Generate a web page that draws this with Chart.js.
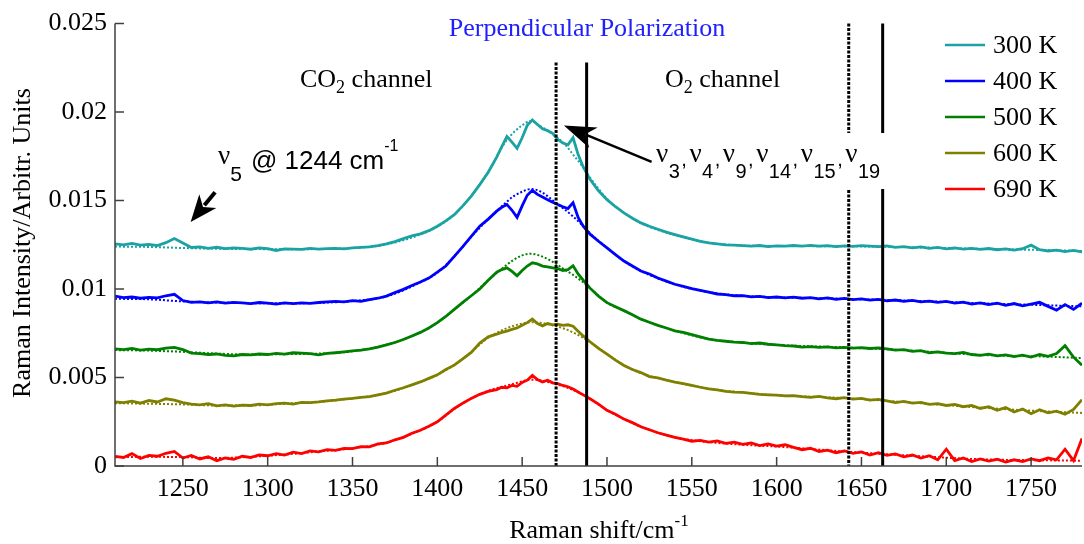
<!DOCTYPE html>
<html><head><meta charset="utf-8">
<script src="https://cdn.jsdelivr.net/npm/chart.js@4.4.1/dist/chart.umd.min.js"></script>
<style>html,body{margin:0;padding:0;background:#fff;}#wrap{width:1084px;height:544px;}</style>
</head><body><div id="wrap"><canvas id="c" width="1084" height="544"></canvas></div>
<script>
// Raman shift (cm^-1)
const xs = [1210,1215,1220,1225,1230,1235,1240,1245,1250,1255,1260,1265,1270,1275,1280,1285,1290,1295,1300,1305,1310,1315,1320,1325,1330,1335,1340,1345,1350,1355,1360,1365,1370,1375,1380,1385,1390,1395,1400,1405,1410,1415,1420,1425,1430,
1435,1438,1441,1444,1447,1450,1453,1456,1459,1462,1465,1468,1471,1474,1477,1480,1483,1486,1490,
1495,1500,1505,1510,1515,1520,1525,1530,1535,1540,1545,1550,1555,1560,1565,1570,1575,1580,1585,1590,1595,1600,1605,1610,1615,1620,1625,1630,1635,1640,1645,1650,1655,1660,1665,1670,1675,1680,1685,1690,1695,1700,1705,1710,1715,1720,1725,1730,1735,1740,1745,1750,1755,1760,1765,1770,1775,1780];

const s300 = [0.01255,0.01250,0.01258,0.01248,0.01252,0.01245,0.01262,0.01285,0.01260,0.01235,
0.01238,0.01230,0.01236,0.01228,0.01233,0.01230,0.01225,0.01232,0.01228,0.01218,
0.01227,0.01225,0.01224,0.01230,0.01226,0.01228,0.01230,0.01227,0.01233,0.01235,
0.01238,0.01245,0.01255,0.01268,0.01285,0.01300,0.01312,0.01330,0.01355,0.01385,
0.01420,0.01470,0.01525,0.01590,0.01660,
0.01745,0.01805,0.01862,0.01830,0.01795,0.01855,0.01925,0.01955,0.01930,0.01905,0.01895,0.01880,0.01845,0.01825,0.01815,0.01855,0.01760,0.01690,0.01620,
0.01555,0.01505,0.01465,0.01430,0.01400,0.01374,0.01355,0.01338,0.01322,0.01308,
0.01295,0.01282,0.01270,0.01261,0.01255,0.01250,0.01248,0.01245,0.01242,0.01246,
0.01240,0.01244,0.01242,0.01246,0.01243,0.01247,0.01242,0.01245,0.01240,0.01244,
0.01241,0.01245,0.01243,0.01240,0.01244,0.01236,0.01240,0.01233,0.01238,0.01230,
0.01235,0.01227,0.01232,0.01226,0.01230,0.01224,0.01229,0.01222,0.01227,0.01220,
0.01228,0.01248,0.01222,0.01215,0.01220,0.01212,0.01218,0.01210];

const s400 = [0.00960,0.00952,0.00955,0.00948,0.00953,0.00950,0.00962,0.00970,0.00935,0.00925,
0.00928,0.00922,0.00927,0.00920,0.00925,0.00922,0.00918,0.00924,0.00920,0.00915,
0.00922,0.00918,0.00922,0.00919,0.00924,0.00927,0.00930,0.00928,0.00934,0.00930,
0.00940,0.00948,0.00960,0.00980,0.00998,0.01020,0.01040,0.01062,0.01095,0.01130,
0.01185,0.01240,0.01298,0.01355,0.01395,
0.01440,0.01462,0.01478,0.01445,0.01405,0.01470,0.01530,0.01558,0.01535,0.01520,0.01505,0.01490,0.01478,0.01465,0.01455,0.01488,0.01405,0.01355,0.01310,
0.01270,0.01233,0.01195,0.01158,0.01130,0.01102,0.01085,0.01062,0.01045,0.01027,
0.01015,0.01002,0.00992,0.00982,0.00972,0.00968,0.00962,0.00963,0.00956,0.00958,
0.00952,0.00955,0.00950,0.00954,0.00948,0.00952,0.00945,0.00950,0.00942,0.00947,
0.00940,0.00944,0.00937,0.00942,0.00933,0.00938,0.00930,0.00936,0.00928,0.00932,
0.00925,0.00930,0.00920,0.00926,0.00915,0.00922,0.00912,0.00920,0.00908,0.00918,
0.00905,0.00915,0.00925,0.00902,0.00880,0.00912,0.00885,0.00920];

const s500 = [0.00662,0.00658,0.00664,0.00655,0.00660,0.00657,0.00666,0.00670,0.00658,0.00638,
0.00635,0.00630,0.00633,0.00625,0.00622,0.00630,0.00628,0.00633,0.00630,0.00636,
0.00632,0.00640,0.00638,0.00635,0.00628,0.00636,0.00640,0.00645,0.00650,0.00655,
0.00662,0.00672,0.00685,0.00698,0.00715,0.00735,0.00755,0.00780,0.00810,0.00845,
0.00885,0.00925,0.00962,0.01000,0.01050,
0.01095,0.01110,0.01120,0.01100,0.01075,0.01105,0.01130,0.01148,0.01142,0.01130,0.01125,0.01120,0.01115,0.01105,0.01110,0.01132,0.01085,0.01050,0.01005,
0.00960,0.00923,0.00900,0.00878,0.00855,0.00830,0.00812,0.00795,0.00780,0.00764,
0.00755,0.00742,0.00730,0.00717,0.00710,0.00705,0.00700,0.00698,0.00692,0.00695,
0.00688,0.00684,0.00680,0.00678,0.00672,0.00675,0.00670,0.00673,0.00668,0.00670,
0.00666,0.00669,0.00664,0.00667,0.00662,0.00655,0.00658,0.00648,0.00652,0.00640,
0.00645,0.00638,0.00635,0.00642,0.00630,0.00625,0.00632,0.00622,0.00628,0.00618,
0.00626,0.00615,0.00630,0.00620,0.00635,0.00680,0.00615,0.00570];

const s600 = [0.00362,0.00358,0.00366,0.00355,0.00370,0.00362,0.00380,0.00372,0.00358,0.00350,
0.00346,0.00352,0.00340,0.00345,0.00338,0.00344,0.00342,0.00350,0.00346,0.00352,
0.00355,0.00350,0.00360,0.00358,0.00362,0.00368,0.00372,0.00378,0.00382,0.00388,
0.00392,0.00402,0.00412,0.00428,0.00442,0.00458,0.00475,0.00495,0.00515,0.00545,
0.00570,0.00605,0.00642,0.00695,0.00730,
0.00745,0.00755,0.00762,0.00772,0.00780,0.00795,0.00810,0.00830,0.00805,0.00792,0.00805,0.00798,0.00802,0.00795,0.00798,0.00790,0.00762,0.00735,0.00702,
0.00665,0.00632,0.00598,0.00568,0.00545,0.00528,0.00505,0.00498,0.00485,0.00474,
0.00465,0.00455,0.00445,0.00436,0.00430,0.00422,0.00418,0.00416,0.00410,0.00405,
0.00402,0.00400,0.00396,0.00398,0.00392,0.00388,0.00393,0.00385,0.00380,0.00386,
0.00378,0.00382,0.00372,0.00376,0.00368,0.00358,0.00365,0.00355,0.00360,0.00348,
0.00352,0.00342,0.00348,0.00335,0.00342,0.00325,0.00335,0.00315,0.00330,0.00305,
0.00322,0.00295,0.00318,0.00300,0.00310,0.00292,0.00320,0.00375];

const s690 = [0.00055,0.00048,0.00070,0.00042,0.00060,0.00055,0.00072,0.00082,0.00045,0.00060,
0.00040,0.00052,0.00030,0.00045,0.00038,0.00055,0.00048,0.00062,0.00058,0.00070,
0.00062,0.00078,0.00070,0.00085,0.00080,0.00092,0.00088,0.00100,0.00098,0.00110,
0.00108,0.00125,0.00130,0.00148,0.00162,0.00185,0.00202,0.00225,0.00250,0.00288,
0.00325,0.00355,0.00382,0.00405,0.00422,
0.00432,0.00445,0.00442,0.00455,0.00450,0.00472,0.00485,0.00512,0.00488,0.00475,0.00485,0.00470,0.00465,0.00455,0.00448,0.00435,0.00418,0.00402,0.00380,
0.00350,0.00315,0.00292,0.00265,0.00245,0.00222,0.00205,0.00188,0.00175,0.00162,
0.00152,0.00140,0.00145,0.00135,0.00142,0.00128,0.00135,0.00122,0.00130,0.00115,
0.00125,0.00112,0.00120,0.00105,0.00092,0.00100,0.00082,0.00090,0.00075,0.00085,
0.00072,0.00080,0.00062,0.00075,0.00060,0.00068,0.00052,0.00062,0.00045,0.00058,
0.00035,0.00095,0.00030,0.00045,0.00025,0.00040,0.00028,0.00038,0.00022,0.00035,
0.00025,0.00040,0.00030,0.00045,0.00035,0.00095,0.00030,0.00155];

// smooth fitted curves (dotted)
const fitX = [1210,1230,1250,1270,1290,1310,1330,1350,1370,1390,1400,1410,1420,1430,1440,1445,1450,1455,1460,1465,1470,1475,1480,1485,1490,1500,1510,1520,1540,1560,1580,1600,1640,1680,1720,1760,1780];
const f300 = [0.01240,0.01238,0.01232,0.01228,0.01226,0.01225,0.01226,0.01232,0.01252,0.01308,0.01352,0.01420,0.01525,0.01662,0.01830,0.01885,0.01925,0.01950,0.01925,0.01895,0.01860,0.01820,0.01760,0.01700,0.01630,0.01510,0.01430,0.01372,0.01305,0.01262,0.01246,0.01243,0.01242,0.01236,0.01227,0.01220,0.01215];
const f400 = [0.00945,0.00942,0.00930,0.00924,0.00920,0.00919,0.00922,0.00932,0.00958,0.01038,0.01092,0.01185,0.01295,0.01395,0.01485,0.01525,0.01550,0.01565,0.01555,0.01525,0.01485,0.01450,0.01410,0.01365,0.01315,0.01233,0.01158,0.01102,0.01027,0.00982,0.00962,0.00954,0.00945,0.00934,0.00920,0.00908,0.00902];
const f500 = [0.00655,0.00652,0.00645,0.00635,0.00630,0.00632,0.00635,0.00648,0.00685,0.00755,0.00810,0.00885,0.00962,0.01050,0.01130,0.01165,0.01190,0.01200,0.01190,0.01170,0.01142,0.01110,0.01080,0.01045,0.01005,0.00923,0.00878,0.00830,0.00765,0.00717,0.00698,0.00684,0.00670,0.00652,0.00628,0.00618,0.00610];
const f600 = [0.00355,0.00352,0.00348,0.00342,0.00342,0.00352,0.00362,0.00382,0.00412,0.00475,0.00515,0.00572,0.00645,0.00725,0.00775,0.00792,0.00805,0.00812,0.00810,0.00802,0.00790,0.00775,0.00755,0.00730,0.00700,0.00632,0.00570,0.00525,0.00475,0.00437,0.00415,0.00400,0.00384,0.00358,0.00330,0.00308,0.00300];
const f690 = [0.00050,0.00052,0.00050,0.00045,0.00052,0.00065,0.00082,0.00100,0.00132,0.00202,0.00250,0.00322,0.00382,0.00425,0.00452,0.00465,0.00478,0.00488,0.00485,0.00475,0.00462,0.00448,0.00430,0.00408,0.00380,0.00315,0.00265,0.00222,0.00162,0.00135,0.00120,0.00110,0.00082,0.00058,0.00038,0.00032,0.00030];

const seriesLabels = ['300 K','400 K','500 K','600 K','690 K'];
const xTickVals = [1250,1300,1350,1400,1450,1500,1550,1600,1650,1700,1750];
const yTickVals = [0,0.005,0.01,0.015,0.02,0.025];
const yTickLabels = ['0','0.005','0.01','0.015','0.02','0.025'];
// channel boundary lines (cm^-1)
const markerX = [1470,1488,1642.5,1662.5];
const markerTop = [0.0228,0.0228,0.025,0.025];

const COLORS = ['#1ba3a3','#0000ff','#008000','#808000','#ff0000'];
const SERIF = '"Liberation Serif","Times New Roman",serif';
const SANS = '"Liberation Sans",Arial,sans-serif';

const solid = [s300,s400,s500,s600,s690];
const fits = [f300,f400,f500,f600,f690];
const datasets = [];
solid.forEach((arr,k)=>{
  datasets.push({label:seriesLabels[k], data:xs.map((x,i)=>({x:x,y:arr[i]})),
    borderColor:COLORS[k], borderWidth:2.8, pointRadius:0, tension:0, order:1});
});
fits.forEach((arr,k)=>{
  datasets.push({label:seriesLabels[k]+' fit', data:fitX.map((x,i)=>({x:x,y:arr[i]})),
    borderColor:COLORS[k], borderWidth:2, borderDash:[2,2], pointRadius:0,
    cubicInterpolationMode:'monotone', order:2});
});

function runs(ctx,x,y,parts){
  parts.forEach(p=>{
    ctx.font=p.f; ctx.fillText(p.t,x,y+(p.dy||0));
    x += ctx.measureText(p.t).width + (p.g||0);
  });
  return x;
}
function arrow(ctx,x1,y1,x2,y2,len,w,lw){
  const ang=Math.atan2(y2-y1,x2-x1), c=Math.cos(ang), s=Math.sin(ang);
  const bx=x2-c*len*0.8, by=y2-s*len*0.8;
  ctx.lineWidth=lw; ctx.beginPath(); ctx.moveTo(x1,y1); ctx.lineTo(bx,by); ctx.stroke();
  ctx.beginPath();
  ctx.moveTo(x2,y2);
  ctx.lineTo(x2-c*len - s*w/2, y2-s*len + c*w/2);
  ctx.lineTo(x2-c*len*0.72, y2-s*len*0.72);
  ctx.lineTo(x2-c*len + s*w/2, y2-s*len - c*w/2);
  ctx.closePath(); ctx.fill();
}

const decor = {
  id:'decor',
  afterDatasetsDraw(chart){
    const {ctx, chartArea:a, scales:{x,y}} = chart;
    ctx.save();
    // boundary lines
    ctx.strokeStyle='#000';
    markerX.forEach((v,i)=>{
      const p=x.getPixelForValue(v);
      ctx.lineWidth=3;
      ctx.setLineDash(i%2===0?[3,1.5]:[]);
      ctx.beginPath(); ctx.moveTo(p,y.getPixelForValue(markerTop[i])); ctx.lineTo(p,a.bottom); ctx.stroke();
    });
    ctx.setLineDash([]);
    // axes
    ctx.strokeStyle='#404040'; ctx.lineWidth=1.5;
    ctx.beginPath(); ctx.moveTo(a.left,a.top); ctx.lineTo(a.left,a.bottom); ctx.lineTo(a.right,a.bottom); ctx.stroke();
    ctx.beginPath();
    xTickVals.forEach(v=>{const p=x.getPixelForValue(v); ctx.moveTo(p,a.bottom); ctx.lineTo(p,a.bottom-9);});
    yTickVals.forEach(v=>{const p=y.getPixelForValue(v); ctx.moveTo(a.left,p); ctx.lineTo(a.left+9,p);});
    ctx.stroke();

    ctx.fillStyle='#000'; ctx.strokeStyle='#000';
    ctx.textAlign='left'; ctx.textBaseline='alphabetic';
    // title
    ctx.fillStyle='#2020ff'; ctx.font='26px '+SERIF; ctx.textAlign='center';
    ctx.fillText('Perpendicular Polarization',587,36);
    ctx.textAlign='left'; ctx.fillStyle='#000';
    // channel labels
    runs(ctx,300,87,[{t:'CO',f:'26px '+SERIF},{t:'2',f:'18px '+SERIF,dy:6},{t:' channel',f:'26px '+SERIF}]);
    runs(ctx,665,87,[{t:'O',f:'26px '+SERIF},{t:'2',f:'18px '+SERIF,dy:6},{t:' channel',f:'26px '+SERIF}]);
    // nu5 label
    runs(ctx,218,164,[{t:'\u03bd',f:'27px '+SERIF},{t:'5',f:'21px '+SANS,dy:17,g:9},{t:'@ 1244 cm',f:'26px '+SANS,dy:5},{t:'-1',f:'16px '+SANS,dy:-13}]);
    // modes label with white box
    ctx.fillStyle='#fff'; ctx.fillRect(650,133,240,56); ctx.fillStyle='#000';
    const subs=['3','4','9','14','15','19'];
    const parts=[];
    subs.forEach((s,i)=>{
      parts.push({t:'\u03bd',f:'27px '+SERIF,g:0.5});
      parts.push({t:s,f:'20px '+SANS,dy:16,g:1.5});
      if(i<subs.length-1) parts.push({t:',',f:'20px '+SANS,dy:4,g:2.5});
    });
    runs(ctx,656,162,parts);
    // arrows
    arrow(ctx, x.getPixelForValue(1269), y.getPixelForValue(0.01547), x.getPixelForValue(1254.6), y.getPixelForValue(0.01379), 27, 22, 4);
    arrow(ctx, x.getPixelForValue(1526.3), y.getPixelForValue(0.01719), x.getPixelForValue(1474.6), y.getPixelForValue(0.01924), 32, 22, 2.5);
    // legend
    seriesLabels.forEach((lab,i)=>{
      const cy=45+36*i;
      ctx.strokeStyle=COLORS[i]; ctx.lineWidth=2.5;
      ctx.beginPath(); ctx.moveTo(945,cy); ctx.lineTo(985,cy); ctx.stroke();
      ctx.fillStyle='#000'; ctx.font='26px '+SERIF; ctx.textBaseline='middle';
      ctx.fillText(lab,993,cy+1);
    });
    ctx.textBaseline='alphabetic';
    // axis titles
    ctx.font='26px '+SERIF;
    const w1=ctx.measureText('Raman shift/cm').width;
    ctx.font='17px '+SERIF;
    const w2=ctx.measureText('-1').width;
    runs(ctx,599-(w1+w2)/2,538,[{t:'Raman shift/cm',f:'26px '+SERIF},{t:'-1',f:'17px '+SERIF,dy:-12}]);
    ctx.translate(23,243); ctx.rotate(-Math.PI/2);
    ctx.font='26px '+SERIF; ctx.textAlign='center'; ctx.textBaseline='middle';
    ctx.fillText('Raman Intensity/Arbitr. Units',0,0);
    ctx.restore();
  }
};

new Chart(document.getElementById('c'),{
  type:'line',
  data:{datasets:datasets},
  options:{
    responsive:false, animation:false, devicePixelRatio:1,
    layout:{padding:{left:0,right:2,top:20,bottom:0}},
    plugins:{legend:{display:false},tooltip:{enabled:false},title:{display:false}},
    scales:{
      x:{type:'linear',min:1210,max:1780,
        grid:{display:false,drawTicks:false},border:{display:false},
        afterBuildTicks:s=>{s.ticks=xTickVals.map(v=>({value:v}));},
        afterFit:s=>{s.height=78;},
        ticks:{font:{family:SERIF,size:26},color:'#000',padding:8,maxRotation:0,autoSkip:false,callback:v=>String(v)}},
      y:{type:'linear',min:0,max:0.025,
        grid:{display:false,drawTicks:false},border:{display:false},
        afterBuildTicks:s=>{s.ticks=yTickVals.map(v=>({value:v}));},
        afterFit:s=>{s.width=115;},
        ticks:{font:{family:SERIF,size:26},color:'#000',padding:8,
          callback:v=>{const i=yTickVals.findIndex(t=>Math.abs(t-v)<1e-9);return i>=0?yTickLabels[i]:'';}}}
    }
  },
  plugins:[decor]
});
</script></body></html>
